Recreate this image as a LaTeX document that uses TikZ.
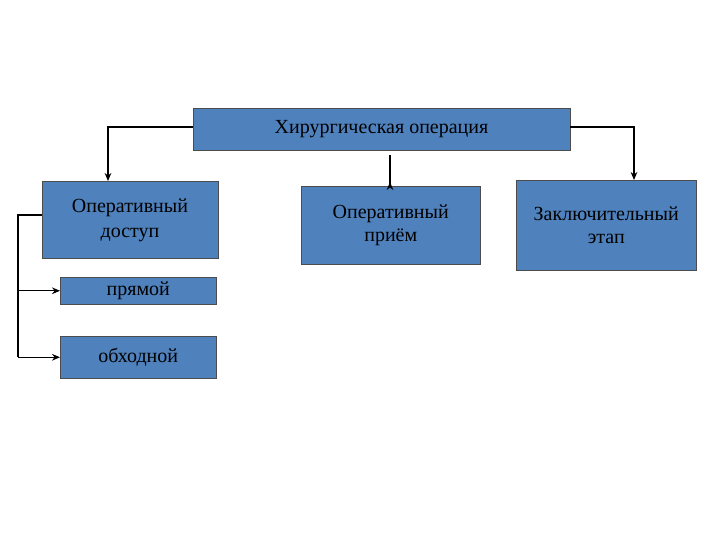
\documentclass[tikz,border=0pt]{standalone}
\usepackage{fontspec}
\setmainfont{Liberation Serif}
\usetikzlibrary{arrows.meta}
\begin{document}
\begin{tikzpicture}[x=0.75pt,y=-0.75pt,
  bx/.style={draw=black!70,fill={rgb,255:red,79;green,129;blue,189},inner sep=0pt,font=\fontsize{15}{17}\selectfont,align=center},
  ar/.style={thick,-{Stealth[length=6pt,width=5pt]}}]
\useasboundingbox (0,0) rectangle (720,540);
\node[bx,minimum width=377*0.75pt,minimum height=42*0.75pt] (top) at (381.5,129) {Хирургическая операция};
\node[bx,minimum width=176*0.75pt,minimum height=77*0.75pt,anchor=north west] (acc) at (42,181) {};
\node at (130,220) [font=\fontsize{15}{19}\selectfont,align=center] (acct) {Оперативный\\доступ};
\node[bx,minimum width=179*0.75pt,minimum height=78*0.75pt,anchor=north west] (mid) at (301,186) {Оперативный\\приём};
\node[bx,minimum width=180*0.75pt,minimum height=90*0.75pt,anchor=north west] (fin) at (516,180) {Заключительный\\этап};
\node[bx,minimum width=156*0.75pt,minimum height=27*0.75pt,anchor=north west] (pr) at (60,277) {прямой};
\node[bx,minimum width=156*0.75pt,minimum height=42*0.75pt,anchor=north west] (ob) at (60,336) {обходной};
\coordinate (c1) at (108,127);
\coordinate (c2) at (634,127);
\coordinate (m1) at (390,155);
\coordinate (l1) at (18,215);
\draw[ar] (top.west |- c1) -- (c1) -- (c1 |- acc.north);
\draw[ar] (top.east |- c2) -- (c2) -- (c2 |- fin.north);
\draw[ar] (m1) -- (m1 |- mid.north) ++(0,-4);
\draw[thick] (acc.west |- l1) -- (l1) -- (l1 |- ob.west);
\draw[ar] (l1 |- pr.west) -- (pr.west);
\draw[ar] (l1 |- ob.west) -- (ob.west);
\end{tikzpicture}
\end{document}
